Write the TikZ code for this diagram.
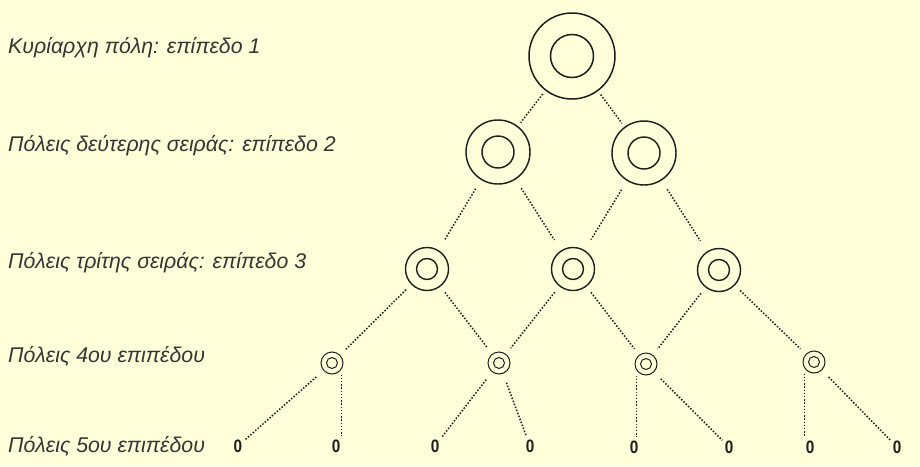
\documentclass[tikz,border=0pt]{standalone}
\usepackage{fontspec}
\setmainfont{Liberation Sans}
\definecolor{bg}{HTML}{FFFFD9}
\definecolor{ink}{HTML}{1E1E1E}
\begin{document}
\begin{tikzpicture}[x=1pt,y=-1pt,
  ring/.style n args={3}{circle, draw=ink, line width=#3, minimum size=#1, inner sep=0pt, outer sep=0pt,
    path picture={\draw[ink, line width=#3] (path picture bounding box.center) circle (#2);}},
  lvlA/.style={ring={86pt}{21.5pt}{1.5pt}},
  lvlB/.style={ring={64pt}{16pt}{1.45pt}},
  lvlC/.style={ring={43pt}{10.5pt}{1.4pt}},
  lvlD/.style={ring={22pt}{5.5pt}{1pt}},
  zero/.style={inner sep=1pt, text=ink, font=\fontsize{18}{18}\selectfont\bfseries, transform shape, xscale=0.85},
  lbl/.style={anchor=base west, inner sep=0pt, text=ink!90, font=\fontsize{21.3}{22}\selectfont\itshape},
  link/.style={draw=ink, line width=1.5pt, dash pattern=on 1.5pt off 1.7pt},
]
\fill[bg] (0,0) rectangle (920,466);
\useasboundingbox (0,0) rectangle (920,466);

% labels
\node[lbl] (t1) at (8,53) {Κυρίαρχη πόλη: επίπεδο 1};
\node[lbl] (t2) at (8,151) {Πόλεις δεύτερης σειράς: επίπεδο 2};
\node[lbl] (t3) at (8,268) {Πόλεις τρίτης σειράς: επίπεδο 3};
\node[lbl] (t4) at (8,362) {Πόλεις 4ου επιπέδου};
\node[lbl] (t5) at (8,452) {Πόλεις 5ου επιπέδου};

% cities
\node[lvlA] (a) at (572,56) {};
\node[lvlB] (b1) at (498,152) {};
\node[lvlB] (b2) at (644,153) {};
\node[lvlC] (c1) at (427,269) {};
\node[lvlC] (c2) at (573,269) {};
\node[lvlC] (c3) at (719,270) {};
\node[lvlD] (d1) at (332,363) {};
\node[lvlD] (d2) at (499,363) {};
\node[lvlD] (d3) at (646,364) {};
\node[lvlD] (d4) at (814,362) {};
\node[zero] (z1) at (238,446) {0};
\node[zero] (z2) at (336,446) {0};
\node[zero] (z3) at (435,446) {0};
\node[zero] (z4) at (530,446) {0};
\node[zero] (z5) at (634,447) {0};
\node[zero] (z6) at (729,447) {0};
\node[zero] (z7) at (810,447) {0};
\node[zero] (z8) at (897,447) {0};

% connectors
\begin{scope}[link, shorten <=5pt, shorten >=5pt]
  \draw (a) -- (b1);
  \draw (a) -- (b2);
\end{scope}
\begin{scope}[link, shorten <=11pt, shorten >=13pt]
  \draw (b1) -- (c1);
  \draw (b1) -- (c2);
  \draw (b2) -- (c2);
  \draw (b2) -- (c3);
\end{scope}
\begin{scope}[link, shorten <=8pt, shorten >=8pt]
  \draw (c1) -- (d1);
  \draw (c1) -- (d2);
  \draw (c2) -- (d2);
  \draw (c2) -- (d3);
  \draw (c3) -- (d3);
  \draw (c3) -- (d4);
\end{scope}
\begin{scope}[link, shorten <=10pt, shorten >=2pt]
  \draw (d1) -- (z1);
  \draw (d2) -- (z3);
  \draw (d2) -- (z4);
  \draw (d3) -- (z6);
  \draw (d4) -- (z8);
\end{scope}
\begin{scope}[link, shorten <=6pt, shorten >=2pt]
  \draw (d1.-30) -- (d1.-30 |- z2.north);
  \draw (d3.-150) -- (d3.-150 |- z5.north);
  \draw (d4.-150) -- (d4.-150 |- z7.north);
\end{scope}
\end{tikzpicture}
\end{document}
